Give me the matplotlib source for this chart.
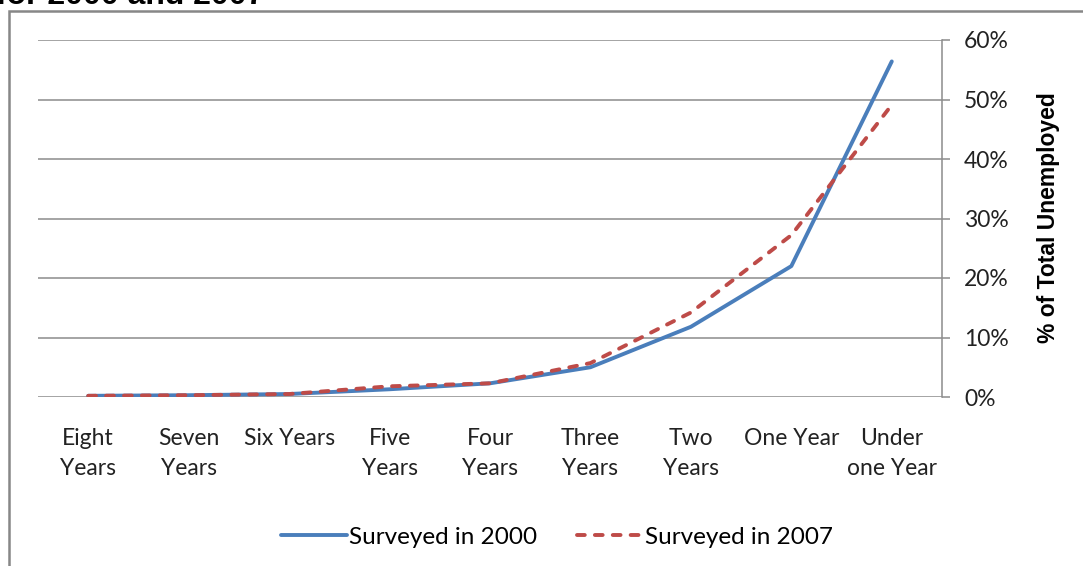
import matplotlib.pyplot as plt
from matplotlib.patches import Rectangle
from matplotlib.ticker import PercentFormatter, FixedLocator

# data (% of total unemployed)
categories = ["Eight\nYears", "Seven\nYears", "Six Years", "Five\nYears", "Four\nYears",
              "Three\nYears", "Two\nYears", "One Year", "Under\none Year"]
surveyed_2000 = [0.2, 0.3, 0.5, 1.3, 2.3, 5.0, 11.8, 22.0, 56.4]
surveyed_2007 = [0.2, 0.3, 0.5, 1.8, 2.3, 5.7, 14.2, 27.2, 49.1]
yticks = [0, 10, 20, 30, 40, 50, 60]

plt.rcParams['font.family'] = ['Lato', 'DejaVu Sans']

fig = plt.figure(figsize=(10.83, 5.66), dpi=100)
W, H = 1083, 566

# plot area in pixel terms
ax = fig.add_axes([38 / W, 1 - 397 / H, (942 - 38) / W, (397 - 40) / H])

x = list(range(len(categories)))
ax.plot(x, surveyed_2000, color='#4A7EBB', lw=2.8, label='Surveyed in 2000',
        solid_capstyle='round', solid_joinstyle='round')
ax.plot(x, surveyed_2007, color='#BE4B48', lw=2.8, label='Surveyed in 2007',
        dashes=(2.0, 2.6), dash_capstyle='round', dash_joinstyle='round')

ax.set_xlim(-0.5, len(categories) - 0.5)
ax.set_ylim(0, 60)
ax.yaxis.set_major_locator(FixedLocator(yticks))
ax.yaxis.set_major_formatter(PercentFormatter(decimals=0))
ax.yaxis.tick_right()
ax.grid(axis='y', color='#8C8C8C', lw=1.1)
ax.set_axisbelow(True)

for s in ['left', 'top', 'bottom']:
    ax.spines[s].set_visible(False)
ax.spines['right'].set_color('#8C8C8C')
ax.spines['right'].set_linewidth(1.1)

ax.set_xticks(x)
ax.set_xticklabels(categories, fontsize=16.5, color='#222222', linespacing=1.55)
ax.tick_params(axis='x', length=0, pad=22)
ax.tick_params(axis='y', direction='out', length=6, width=1.1, color='#8C8C8C',
               labelsize=16.5, labelcolor='#222222', pad=10)

fig.text(1048 / W, 1 - 218 / H, '% of Total Unemployed', rotation=90,
         ha='center', va='center', fontsize=16.5, fontweight='bold',
         family='Liberation Sans')

leg = ax.legend(loc='center', bbox_to_anchor=(557 / W, 1 - 537 / H),
                bbox_transform=fig.transFigure, ncol=2, frameon=False,
                fontsize=17.5, handlelength=2.7, handletextpad=0.12,
                columnspacing=1.6)

# cut-off title at the very top
fig.text(-4 / W, 1 - 4 / H, 'for 2000 and 2007', ha='left', va='baseline',
         fontsize=23, fontweight='bold', family='Liberation Sans')

# outer chart border
fig.patches.append(Rectangle((9 / W, -0.1), 1.2, 1.1 - 11 / H, transform=fig.transFigure,
                             fill=False, edgecolor='#878787', lw=1.8))

fig.savefig('out.png', dpi=100)
